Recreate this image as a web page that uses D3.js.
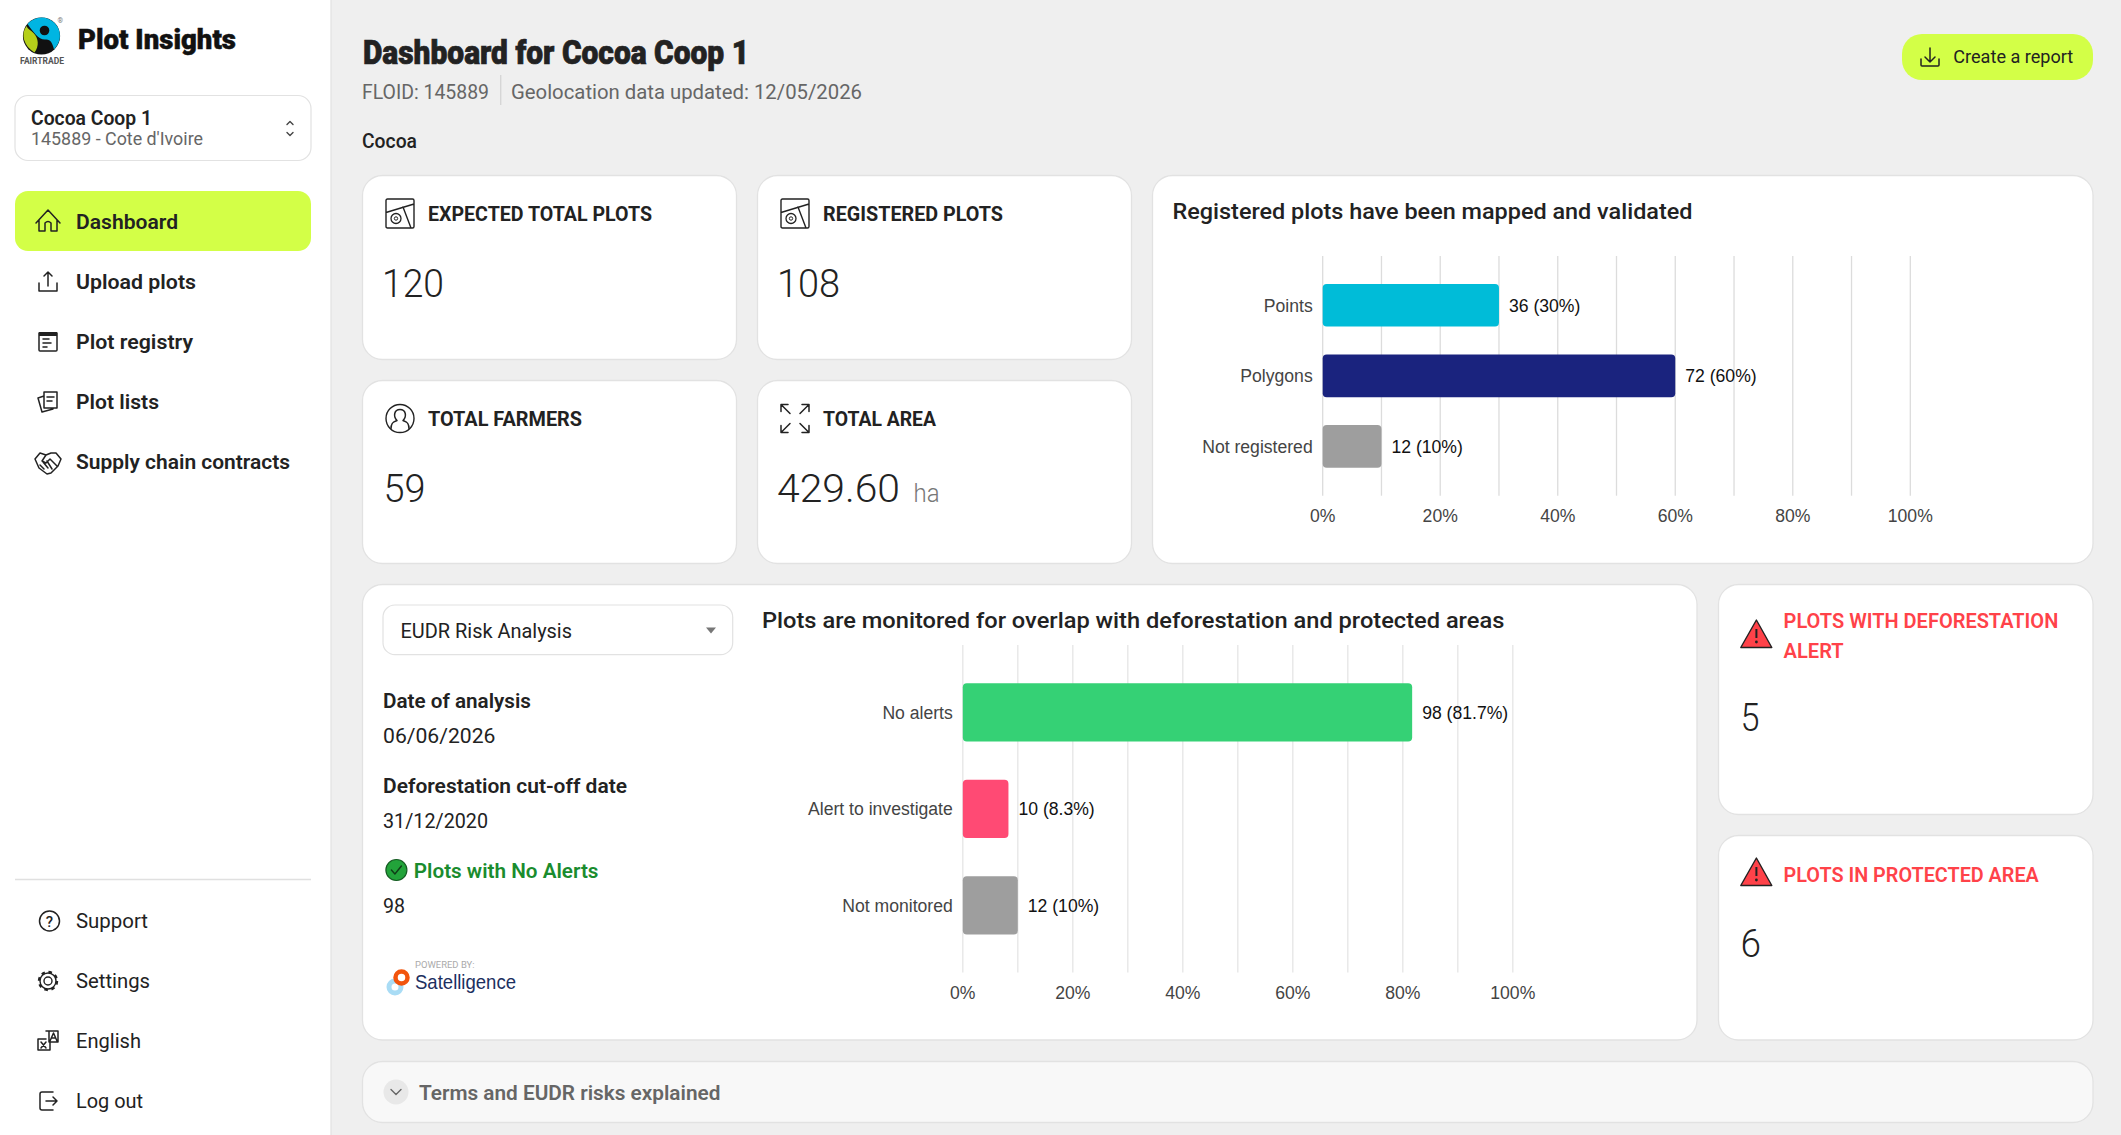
<!DOCTYPE html>
<html>
<head>
<meta charset="utf-8">
<title>Plot Insights</title>
<script src="https://cdn.jsdelivr.net/npm/d3@7"></script>
<style>
    html, body { margin: 0; padding: 0; background: #efefef; overflow: hidden; }
    svg { display: block; }
    text { font-family: Roboto, "Noto Sans", sans-serif; }
    .axis text { font-family: "Liberation Sans", Arial, sans-serif; font-size: 17.6px; fill: #444; }
    .grid line { stroke-width: 1.3px; }
    .value-label { font-family: "Liberation Sans", Arial, sans-serif; font-size: 17.6px; fill: #111; }
</style>
</head>
<body>
<div id="app"></div>
<script>
// Sidebar text
const navItems = ['Dashboard', 'Upload plots', 'Plot registry', 'Plot lists', 'Supply chain contracts'];
const footerItems = ['Support', 'Settings', 'English', 'Log out'];

// KPI cards
const kpiTitles = ['EXPECTED TOTAL PLOTS', 'REGISTERED PLOTS', 'TOTAL FARMERS', 'TOTAL AREA'];
const kpiValues = ['120', '108', '59', '429.60'];

// Registered plots chart
const registeredCategories = ['Points', 'Polygons', 'Not registered'];
const registeredCounts = [36, 72, 12];
const registeredPercents = [30, 60, 10];

// Monitoring chart
const monitoredCategories = ['No alerts', 'Alert to investigate', 'Not monitored'];
const monitoredCounts = [98, 10, 12];
const monitoredPercents = [81.7, 8.3, 10];

// Shared axis, one line per 10% and a label every 20%
const gridTicks = [0, 10, 20, 30, 40, 50, 60, 70, 80, 90, 100];
const labelledTicks = [0, 20, 40, 60, 80, 100];

const INK = '#222';
const LIME = '#d3ff47';
const RED = '#ff4249';

const svg = d3.select('#app').append('svg').attr('width', 2121).attr('height', 1135);

// Text helper, the original font is not installed so widths are forced to match
function label(x, y, str, size, weight, color, width, parent) {
    const t = (parent || svg).append('text')
        .attr('x', x).attr('y', y)
        .attr('font-size', size).attr('font-weight', weight)
        .attr('fill', color).text(str);
    if (width) t.attr('textLength', width).attr('lengthAdjust', 'spacingAndGlyphs');
    return t;
}

function card(x0, y0, x1, y1, fill) {
    svg.append('rect')
        .attr('x', x0).attr('y', y0).attr('width', x1 - x0).attr('height', y1 - y0)
        .attr('rx', 20).attr('fill', fill || '#fff')
        .attr('stroke', '#e2e2e2').attr('stroke-width', 1.3);
}

function icon(x, y, d, stroke, width) {
    return svg.append('path')
        .attr('transform', `translate(${x},${y})`)
        .attr('d', d).attr('fill', 'none')
        .attr('stroke', stroke || INK).attr('stroke-width', width || 1.5)
        .attr('stroke-linecap', 'round').attr('stroke-linejoin', 'round');
}

// Sidebar
svg.append('rect').attr('width', 331).attr('height', 1135).attr('fill', '#fff');
svg.append('line').attr('x1', 331).attr('x2', 331).attr('y1', 0).attr('y2', 1135).attr('stroke', '#e4e4e4').attr('stroke-width', 1.3);

// Fairtrade mark
const logo = svg.append('g').attr('transform', 'translate(41.5,36)');
logo.append('circle').attr('r', 18.6).attr('fill', '#111');
logo.append('path').attr('fill', '#00b5e2')
    .attr('d', 'M-14,-12 A18.4,18.4 0 0 1 18.4,0 C18.2,6 15.5,10 12.5,13.5 C11,7 9,3 4,3.5 C-3,4 -8,-4 -14,-12 Z');
logo.append('circle').attr('cx', 3).attr('cy', -5.5).attr('r', 4.8).attr('fill', '#111');
logo.append('path').attr('fill', '#b5cf1a')
    .attr('d', 'M-15,-10 C-21,-2 -18,10 -7,16.5 C-2,10 -3,2 -8,-3 C-11,-6 -14,-7 -15,-10 Z');
label(20, 63.5, 'FAIRTRADE', 9.5, 700, '#555', 44);
label(57.5, 22.5, '®', 7, 400, '#777');

label(78, 49, 'Plot Insights', 28, 900, '#111', 158).attr('stroke', '#111').attr('stroke-width', 0.5);

// Coop selector
svg.append('rect').attr('x', 15).attr('y', 95.5).attr('width', 296).attr('height', 65)
    .attr('rx', 13).attr('fill', '#fff').attr('stroke', '#e2e2e2').attr('stroke-width', 1.2);
label(31, 125, 'Cocoa Coop 1', 20.5, 600, INK, 121);
label(31, 145, "145889 - Cote d'Ivoire", 18, 400, '#666', 172);
icon(290, 128.5, 'M-3,-4 L0,-7 L3,-4 M-3,4 L0,7 L3,4', '#444', 1.4);

// Main navigation
const navWidths = [102, 120, 117, 83, 214];
const navY = d3.scalePoint().domain(navItems).range([222, 462]);
svg.append('rect').attr('x', 15).attr('y', 191).attr('width', 296).attr('height', 60).attr('rx', 13).attr('fill', LIME);
navItems.forEach((d, i) => label(76, navY(d) + 7.3, d, 20, 600, INK, navWidths[i]));

icon(48, 222, 'M-12,1 L0,-12 L12,1 M-9,-2 V9 H-3 V1 Q0,-2 3,1 V9 H9 V-2');
icon(48, 282, 'M-9,1 V9 H9 V1 M0,4 V-10 M-4,-6 L0,-10 L4,-6');
icon(48, 342, 'M-9,-9 H9 V8 Q9,9 8,9 H-8 Q-9,9 -9,8 Z M-5,-3 H1 M-5,1 H3 M-5,5 H-1');
svg.append('rect').attr('x', 39).attr('y', 332).attr('width', 18).attr('height', 4).attr('fill', INK);
icon(48, 402, 'M-4,-10 H9 V6 H-4 Z M-1,-5 H6 M-1,-1 H4 M-4,6 L-4,-6 L-10,-4 L-6,10 L5,7');
icon(48, 462, 'M-13,-3 L-8,-9 L-2,-7 L3,-9 L8,-9 L13,-3 L10,4 L3,11 L-1,12 L-9,6 Z M-2,-7 L-6,-1 L-2,1 L2,-3 L9,4 M-8,3 L-4,7 M-5,0 L0,6 M-1,-1 L4,7');

// Footer navigation
const footerWidths = [72, 74, 65, 67];
const footerY = d3.scalePoint().domain(footerItems).range([921.7, 1101.7]);
svg.append('line').attr('x1', 15).attr('x2', 311).attr('y1', 879.5).attr('y2', 879.5).attr('stroke', '#e0e0e0').attr('stroke-width', 1.3);
footerItems.forEach((d, i) => label(76, footerY(d) + 6.5, d, 20, 400, INK, footerWidths[i]));

svg.append('circle').attr('cx', 49.5).attr('cy', 921).attr('r', 10).attr('fill', 'none').attr('stroke', INK).attr('stroke-width', 1.5);
label(45.8, 927, '?', 15, 500, INK);
svg.append('circle').attr('cx', 48).attr('cy', 981).attr('r', 4).attr('fill', 'none').attr('stroke', INK).attr('stroke-width', 1.4);
svg.append('circle').attr('cx', 48).attr('cy', 981).attr('r', 8).attr('fill', 'none').attr('stroke', INK).attr('stroke-width', 1.4);
svg.append('circle').attr('cx', 48).attr('cy', 981).attr('r', 9).attr('fill', 'none').attr('stroke', INK).attr('stroke-width', 2.4).attr('stroke-dasharray', '3.5 3.6');
icon(48, 1041, 'M-2,-10 H10 V1 H1 V-10 M2,0 L5.5,-8 L9,0 M3.5,-3 H7.5 M-2,-2 H-10 V9 H2 V2 M-7,1 L-2,7 M-2,1 L-7,7');
icon(48, 1101, 'M5,-9 H-6 Q-8,-9 -8,-7 V7 Q-8,9 -6,9 H5 M-2,0 H9 M5,-4 L9,0 L5,4');

// Page header
label(363, 63.5, 'Dashboard for Cocoa Coop 1', 33, 900, INK, 386).attr('stroke', INK).attr('stroke-width', 0.7);
label(362, 98.5, 'FLOID: 145889', 20, 400, '#666', 127);
svg.append('line').attr('x1', 500.7).attr('x2', 500.7).attr('y1', 75).attr('y2', 105).attr('stroke', '#d4d4d4').attr('stroke-width', 1.3);
label(511, 98.5, 'Geolocation data updated: 12/05/2026', 20, 400, '#666', 351);
label(362, 148, 'Cocoa', 20, 500, INK, 55);

// Report button
svg.append('rect').attr('x', 1902).attr('y', 34).attr('width', 191).attr('height', 46).attr('rx', 20).attr('fill', LIME);
icon(1930, 57, 'M-9,2 V8 Q-9,9 -8,9 H8 Q9,9 9,8 V2 M0,-9 V5 M-5,0 L0,5 L5,0', INK, 1.5);
label(1953.3, 63, 'Create a report', 18, 400, INK, 120);

// KPI cards
const kpiBoxes = [[362.5, 175.5, 736.5, 359.5], [757.5, 175.5, 1131.5, 359.5], [362.5, 380.5, 736.5, 563.5], [757.5, 380.5, 1131.5, 563.5]];
const kpiTitleWidths = [224, 180, 154, 113];
const kpiValueWidths = [62, 63, 42, 123];
kpiBoxes.forEach((b, i) => {
    card(b[0], b[1], b[2], b[3]);
    label(b[0] + 65.5, b[1] + 45.5, kpiTitles[i], 19.5, 700, INK, kpiTitleWidths[i]);
    label(b[0] + (i === 2 ? 21 : 19.5), b[1] + 121, kpiValues[i], 39, 300, INK, kpiValueWidths[i]);
});
label(913.5, 501.5, 'ha', 26, 300, '#777', 26);

const plotIcon = 'M0,1.5 Q0,0 1.5,0 H26.5 Q28,0 28,1.5 V27.5 Q28,29 26.5,29 H1.5 Q0,29 0,27.5 Z M0,13.5 L28,5 M17,8 L25,29';
[386, 781].forEach(x => {
    icon(x, 199, plotIcon, INK, 1.4);
    svg.append('circle').attr('cx', x + 10).attr('cy', 218.5).attr('r', 5).attr('fill', 'none').attr('stroke', INK).attr('stroke-width', 1.3);
    svg.append('circle').attr('cx', x + 10).attr('cy', 218.5).attr('r', 1.7).attr('fill', 'none').attr('stroke', INK).attr('stroke-width', 1);
});
svg.append('circle').attr('cx', 400).attr('cy', 418.5).attr('r', 14).attr('fill', 'none').attr('stroke', INK).attr('stroke-width', 1.4);
icon(400, 418.5, 'M-9,10 C-9,3 -5,3 -3,2 C-7,-2 -6,-9 0,-9 C6,-9 7,-2 3,2 C5,3 9,3 9,10');
icon(795, 418.5, 'M-14,-7 V-14 H-7 M-14,-14 L-5,-5 M14,-7 V-14 H7 M14,-14 L5,-5 M-14,7 V14 H-7 M-14,14 L-5,5 M14,7 V14 H7 M14,14 L5,5');

// Bar chart card shared by both charts
function drawBars(cfg) {
    const x = d3.scaleLinear().domain([0, 100]).range(cfg.xRange);
    const y = d3.scaleBand().domain(cfg.categories).range(cfg.yRange).padding(0.396);
    const height = cfg.yRange[1] - cfg.yRange[0];
    const chart = svg.append('g');

    const grid = chart.append('g')
        .attr('class', 'grid')
        .attr('transform', `translate(0,${cfg.yRange[0]})`)
        .call(d3.axisBottom(x).tickValues(gridTicks).tickSize(height).tickFormat('').offset(0));
    grid.select('.domain').remove();
    grid.selectAll('line').attr('stroke', cfg.gridColor);

    const xAxis = chart.append('g')
        .attr('class', 'axis')
        .attr('transform', `translate(0,${cfg.yRange[1]})`)
        .call(d3.axisBottom(x).tickValues(labelledTicks).tickSize(0).tickPadding(14).tickFormat(d => d + '%').offset(0));
    xAxis.select('.domain').remove();

    const yAxis = chart.append('g')
        .attr('class', 'axis')
        .attr('transform', `translate(${cfg.xRange[0]},0)`)
        .call(d3.axisLeft(y).tickSize(0).tickPadding(10).offset(0));
    yAxis.select('.domain').remove();
    yAxis.selectAll('text').attr('dy', '.36em');

    chart.selectAll('.bar')
        .data(cfg.categories)
        .join('rect')
        .attr('class', 'bar')
        .attr('x', x(0))
        .attr('y', d => y(d))
        .attr('width', (d, i) => x(cfg.percents[i]) - x(0))
        .attr('height', y.bandwidth())
        .attr('rx', 4)
        .attr('fill', (d, i) => cfg.colors[i]);

    chart.selectAll('.value-label')
        .data(cfg.categories)
        .join('text')
        .attr('class', 'value-label')
        .attr('x', (d, i) => x(cfg.percents[i]) + 10)
        .attr('y', d => y(d) + y.bandwidth() / 2)
        .attr('dy', '.37em')
        .text((d, i) => `${cfg.counts[i]} (${cfg.percents[i]}%)`);
}

// Registered plots chart
card(1152.5, 175.5, 2093, 563.5);
label(1172.5, 219, 'Registered plots have been mapped and validated', 22, 500, INK, 520);
drawBars({
    categories: registeredCategories,
    counts: registeredCounts,
    percents: registeredPercents,
    colors: ['#00bcd8', '#1a237e', '#9e9e9e'],
    gridColor: '#dcdcdc',
    xRange: [1322.7, 1910.3],
    yRange: [256, 495.7]
});

// Monitoring card
card(362.5, 584.5, 1697, 1040);
svg.append('rect').attr('x', 383).attr('y', 605).attr('width', 349.7).attr('height', 49.7)
    .attr('rx', 12).attr('fill', '#fff').attr('stroke', '#e2e2e2').attr('stroke-width', 1.2);
label(400.5, 637.5, 'EUDR Risk Analysis', 20, 400, INK, 171.5);
svg.append('path').attr('transform', 'translate(711,630.5)').attr('d', 'M-5,-3 H5 L0,3 Z').attr('fill', '#777');

label(383, 708, 'Date of analysis', 20, 600, INK, 148);
label(383, 742.5, '06/06/2026', 20, 400, INK, 112.5);
label(383, 793, 'Deforestation cut-off date', 20, 600, INK, 244);
label(383, 828, '31/12/2020', 20, 400, INK, 105);
svg.append('circle').attr('cx', 396.4).attr('cy', 870).attr('r', 10.5).attr('fill', '#22a33a').attr('stroke', '#155c22').attr('stroke-width', 1.2);
icon(396.4, 870, 'M-5,0 L-1.5,4 L5,-4', '#0f3d17', 1.4);
label(413.8, 878, 'Plots with No Alerts', 20, 600, '#1a8c2e', 184.7);
label(383, 913, '98', 20, 400, INK, 22);

// Satelligence logo
label(415, 967.5, 'POWERED BY:', 9.5, 400, '#aaa', 59.5);
svg.append('circle').attr('cx', 395).attr('cy', 987).attr('r', 6).attr('fill', 'none').attr('stroke', '#a9dcf5').attr('stroke-width', 5);
svg.append('circle').attr('cx', 401.5).attr('cy', 977.5).attr('r', 6).attr('fill', '#fff').attr('stroke', '#f2540d').attr('stroke-width', 4.5);
label(415, 989, 'Satelligence', 21, 400, '#1c2f5f', 101).style('font-family', '"Liberation Sans", Arial, sans-serif');

label(762, 628, 'Plots are monitored for overlap with deforestation and protected areas', 22, 500, INK, 742.3);
drawBars({
    categories: monitoredCategories,
    counts: monitoredCounts,
    percents: monitoredPercents,
    colors: ['#35d175', '#ff4a74', '#9e9e9e'],
    gridColor: '#e5e5e5',
    xRange: [962.8, 1512.8],
    yRange: [645.1, 972.6]
});

// Alert cards
const warnIcon = 'M15.6,0 L31,27.5 H0 Z';
function alertCard(y0, y1, iconY, valueY, value, valueWidth) {
    card(1718.5, y0, 2093, y1);
    svg.append('path').attr('transform', `translate(1740.8,${iconY})`).attr('d', warnIcon)
        .attr('fill', RED).attr('stroke', INK).attr('stroke-width', 1.4).attr('stroke-linejoin', 'round');
    svg.append('path').attr('transform', `translate(1740.8,${iconY})`).attr('d', 'M15.6,9 V18').attr('stroke', INK).attr('stroke-width', 2);
    svg.append('circle').attr('cx', 1756.4).attr('cy', iconY + 22).attr('r', 1.4).attr('fill', INK);
    label(1740.6, valueY, value, 39, 300, INK, valueWidth);
}
alertCard(584.5, 814.5, 620, 730.5, '5', 19);
alertCard(835.5, 1040, 858, 956.5, '6', 20.5);
label(1783.6, 628, 'PLOTS WITH DEFORESTATION', 20, 600, RED, 274.7);
label(1783.6, 658, 'ALERT', 20, 600, RED, 60);
label(1783.6, 882, 'PLOTS IN PROTECTED AREA', 20, 600, RED, 255.2);

// Collapsed terms panel
card(362.5, 1061.5, 2093, 1122.5, '#f8f8f8');
svg.append('circle').attr('cx', 396).attr('cy', 1092).attr('r', 12.5).attr('fill', '#e8e8e8');
icon(396, 1092, 'M-5,-2.5 L0,2.5 L5,-2.5', '#666', 1.4);
label(419, 1100.3, 'Terms and EUDR risks explained', 20, 600, '#666', 301.4);
</script>
</body>
</html>
